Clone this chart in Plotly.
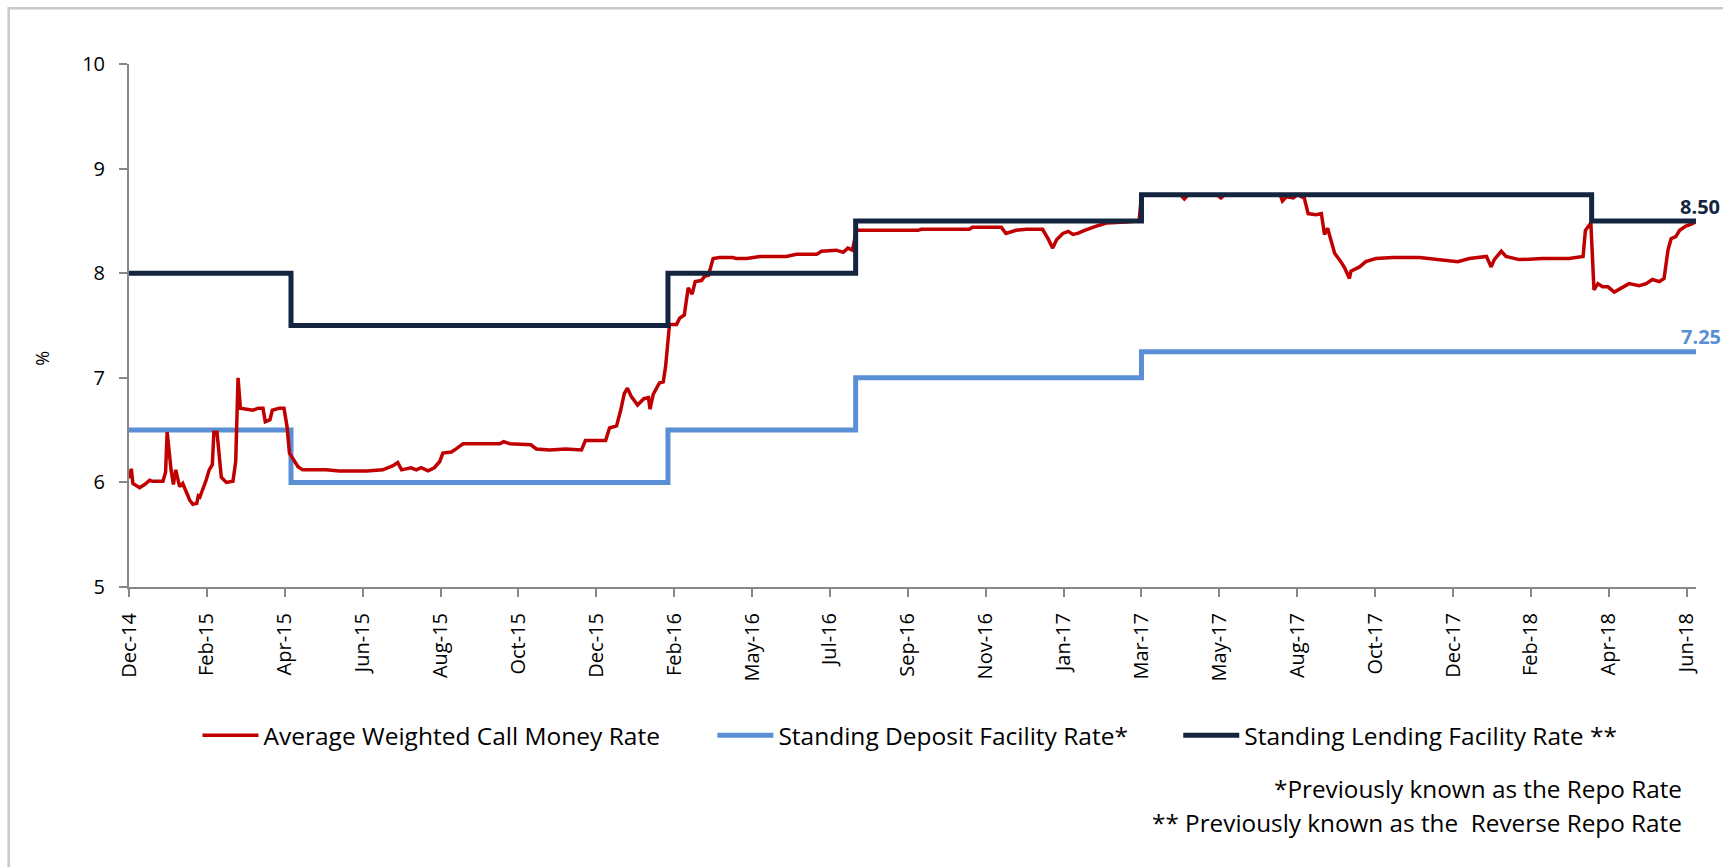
import plotly.graph_objects as go

# ---------------- data ----------------
# x positions are expressed in "tick intervals" of the original category (trading-day) axis
tick_labels = ["Dec-14", "Feb-15", "Apr-15", "Jun-15", "Aug-15", "Oct-15", "Dec-15",
               "Feb-16", "May-16", "Jul-16", "Sep-16", "Nov-16", "Jan-17", "Mar-17",
               "May-17", "Aug-17", "Oct-17", "Dec-17", "Feb-18", "Apr-18", "Jun-18"]
tick_pos = list(range(len(tick_labels)))

call_x = [0, 0.03, 0.05, 0.09, 0.137, 0.2, 0.265, 0.3, 0.436, 0.47, 0.49, 0.54, 0.57, 0.60,
          0.63, 0.65, 0.69, 0.74, 0.78, 0.82, 0.87, 0.89, 0.91, 0.99, 1.03, 1.07, 1.09, 1.13,
          1.16, 1.185, 1.25, 1.335, 1.37, 1.40, 1.43, 1.59, 1.66, 1.72, 1.75, 1.81, 1.84, 1.93,
          1.99, 2.03, 2.06, 2.13, 2.17, 2.23, 2.40, 2.53, 2.70, 3.05, 3.26, 3.39, 3.45, 3.50,
          3.62, 3.69, 3.75, 3.84, 3.92, 3.99, 4.03, 4.14, 4.20, 4.29, 4.76, 4.81, 4.89, 5.16,
          5.23, 5.40, 5.61, 5.81, 5.86, 6.12, 6.17, 6.26, 6.31, 6.36, 6.40, 6.45, 6.53, 6.61,
          6.67, 6.69, 6.73, 6.77, 6.81, 6.86, 6.89, 6.94, 7.03, 7.07, 7.13, 7.18, 7.23, 7.27,
          7.35, 7.39, 7.44, 7.50, 7.58, 7.75, 7.80, 7.93, 8.10, 8.44, 8.57, 8.83, 8.89, 9.08,
          9.17, 9.23, 9.29, 9.34, 10.13, 10.17, 10.79, 10.83, 11.20, 11.26, 11.39, 11.52, 11.73,
          11.80, 11.86, 11.91, 11.99, 12.06, 12.12, 12.18, 12.27, 12.42, 12.55, 12.80, 12.97,
          13.0, 13.5, 13.55, 13.6, 13.97, 14.02, 14.07, 14.78, 14.81, 14.86, 14.95, 15.0, 15.06,
          15.09, 15.14, 15.24, 15.31, 15.35, 15.39, 15.44, 15.48, 15.56, 15.61, 15.67, 15.69,
          15.80, 15.88, 16.01, 16.23, 16.57, 16.87, 17.06, 17.21, 17.43, 17.49, 17.53, 17.62,
          17.68, 17.85, 18.15, 18.49, 18.62, 18.67, 18.70, 18.75, 18.77, 18.81, 18.86, 18.92,
          18.99, 19.07, 19.18, 19.26, 19.39, 19.48, 19.56, 19.65, 19.71, 19.76, 19.80, 19.86,
          19.91, 19.99, 20.06, 20.12]
call_y = [6.04, 6.13, 5.99, 5.97, 5.95, 5.98, 6.02, 6.01, 6.01, 6.10, 6.48, 6.12, 5.98, 6.12,
          6.00, 5.96, 5.99, 5.90, 5.83, 5.79, 5.80, 5.87, 5.86, 6.02, 6.12, 6.17, 6.48, 6.48,
          6.20, 6.05, 6.00, 6.01, 6.20, 7.00, 6.71, 6.69, 6.71, 6.71, 6.58, 6.60, 6.69, 6.71,
          6.71, 6.53, 6.28, 6.20, 6.15, 6.12, 6.12, 6.12, 6.11, 6.11, 6.12, 6.16, 6.19, 6.12,
          6.14, 6.12, 6.14, 6.11, 6.14, 6.20, 6.28, 6.29, 6.32, 6.37, 6.37, 6.39, 6.37, 6.36,
          6.32, 6.31, 6.32, 6.31, 6.40, 6.40, 6.52, 6.54, 6.68, 6.85, 6.90, 6.82, 6.74, 6.80,
          6.81, 6.70, 6.84, 6.90, 6.95, 6.96, 7.11, 7.51, 7.51, 7.57, 7.60, 7.86, 7.80, 7.92,
          7.93, 7.97, 7.98, 8.14, 8.15, 8.15, 8.14, 8.14, 8.16, 8.16, 8.18, 8.18, 8.21, 8.22,
          8.20, 8.24, 8.22, 8.41, 8.41, 8.42, 8.42, 8.44, 8.44, 8.38, 8.41, 8.42, 8.42,
          8.33, 8.24, 8.32, 8.38, 8.40, 8.37, 8.38, 8.41, 8.45, 8.48, 8.49, 8.50,
          8.75, 8.75, 8.71, 8.75, 8.75, 8.72, 8.75, 8.75, 8.69, 8.73, 8.72, 8.75, 8.73,
          8.72, 8.57, 8.56, 8.57, 8.37, 8.43, 8.29, 8.19, 8.11, 8.05, 7.95, 8.02,
          8.06, 8.11, 8.14, 8.15, 8.15, 8.13, 8.11, 8.14, 8.16, 8.06, 8.13, 8.21,
          8.16, 8.13, 8.14, 8.14, 8.15, 8.16, 8.41, 8.46, 8.48, 7.84, 7.90, 7.87,
          7.87, 7.82, 7.87, 7.90, 7.88, 7.90, 7.94, 7.92, 7.95, 8.22, 8.33, 8.35,
          8.41, 8.45, 8.47, 8.49]

sdf_x = [0, 2.08, 6.92, 9.33, 13.0, 20.12]
sdf_y = [6.50, 6.00, 6.50, 7.00, 7.25, 7.25]

slf_x = [0, 2.08, 6.92, 9.33, 13.0, 18.78, 20.12]
slf_y = [8.00, 7.50, 8.00, 8.50, 8.75, 8.50, 8.50]

names = ["Average Weighted Call Money Rate", "Standing Deposit Facility Rate*",
         "Standing Lending Facility Rate **"]
footnotes = ["*Previously known as the Repo Rate",
             "** Previously known as the \u00a0Reverse Repo Rate"]

RED = "#C00000"
BLUE = "#5A8FD6"
NAVY = "#13253F"
FONT = "Open Sans"

fig = go.Figure()
fig.add_trace(go.Scatter(x=sdf_x, y=sdf_y, mode="lines", name=names[1],
                         line=dict(color=BLUE, width=5, shape="hv"), legend="legend2",
                         showlegend=True))
fig.add_trace(go.Scatter(x=call_x, y=call_y, mode="lines", name=names[0],
                         line=dict(color=RED, width=3.5), legend="legend", showlegend=True))
fig.add_trace(go.Scatter(x=slf_x, y=slf_y, mode="lines", name=names[2],
                         line=dict(color=NAVY, width=5, shape="hv"), legend="legend3",
                         showlegend=True))

# end-value labels
fig.add_annotation(x=slf_x[-1], y=slf_y[-1], text="<b>%.2f</b>" % slf_y[-1], showarrow=False,
                   xanchor="left", yanchor="middle", xshift=-18, yshift=14,
                   font=dict(family=FONT, size=20, color=NAVY))
fig.add_annotation(x=sdf_x[-1], y=sdf_y[-1], text="<b>%.2f</b>" % sdf_y[-1], showarrow=False,
                   xanchor="left", yanchor="middle", xshift=-17, yshift=15,
                   font=dict(family=FONT, size=20, color=BLUE))

# y-axis unit label
fig.add_annotation(xref="paper", yref="paper", x=-0.0557, y=0.4379, text="%", showarrow=False,
                   xanchor="center", yanchor="middle",
                   textangle=-90, font=dict(family=FONT, size=18, color="#000000"))

# footnotes
fig.add_annotation(xref="paper", yref="paper", x=0.9926, y=-0.3851, text=footnotes[0],
                   showarrow=False, xanchor="right", yanchor="middle",
                   font=dict(family=FONT, size=24.3, color="#000000"))
fig.add_annotation(xref="paper", yref="paper", x=0.9926, y=-0.4496, text=footnotes[1],
                   showarrow=False, xanchor="right", yanchor="middle",
                   font=dict(family=FONT, size=24.3, color="#000000"))

# outer border (top/left visible)
fig.add_shape(type="rect", xref="paper", yref="paper", x0=-0.0768, x1=1.03, y0=-0.56, y1=1.1064,
              line=dict(color="#C9C9C9", width=2.5), layer="below")

leg_common = dict(orientation="h", yanchor="middle", xanchor="left", y=-0.2836,
                  font=dict(family=FONT, size=24.5, color="#000000"),
                  bgcolor="rgba(0,0,0,0)", itemwidth=56)

fig.update_layout(
    width=1723, height=867,
    showlegend=True,
    margin=dict(l=129, r=27, t=64, b=280),
    paper_bgcolor="white", plot_bgcolor="white",
    font=dict(family=FONT, color="#000000"),
    legend=dict(x=0.0437, **leg_common),
    legend2=dict(x=0.3723, **leg_common),
    legend3=dict(x=0.6696, **leg_common),
    xaxis=dict(range=[0, 20.12], tickmode="array", tickvals=tick_pos, ticktext=tick_labels,
               tickangle=-90, showgrid=False, zeroline=False, showline=True,
               linecolor="#868686", linewidth=2, ticks="outside", ticklen=8, tickwidth=2,
               tickcolor="#868686", ticklabelstandoff=8,
               tickfont=dict(family=FONT, size=20, color="#000000")),
    yaxis=dict(range=[5, 10], dtick=1, showgrid=False, zeroline=False, showline=True,
               linecolor="#868686", linewidth=2, ticks="outside", ticklen=8, tickwidth=2,
               tickcolor="#868686", ticklabelstandoff=10,
               tickfont=dict(family=FONT, size=20, color="#000000")),
)

fig.write_html("out.html", config={"displayModeBar": False},
               post_script="document.body.style.margin='0';document.body.style.overflow='hidden';")
